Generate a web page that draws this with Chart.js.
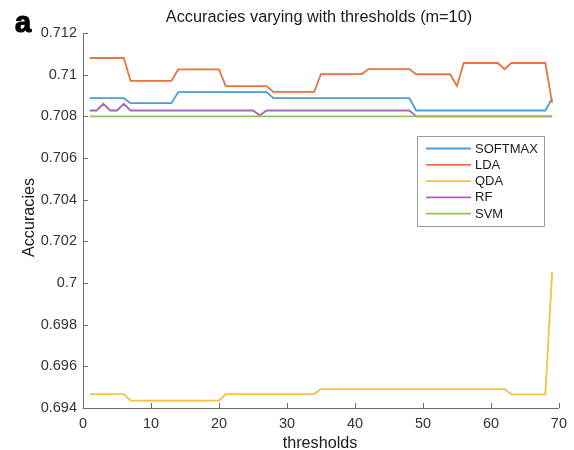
<!DOCTYPE html>
<html>
<head>
<meta charset="utf-8">
<script src="https://cdn.jsdelivr.net/npm/chart.js@4.4.0/dist/chart.umd.min.js"></script>
<style>
  html, body { margin: 0; padding: 0; background: #fff; }
  #wrap { width: 574px; height: 450px; position: relative; }
</style>
</head>
<body>
<div id="wrap"><canvas id="c" width="574" height="450"></canvas></div>
<script>
const thresholds = [1,2,3,4,5,6,7,8,9,10,11,12,13,14,15,16,17,18,19,20,21,22,23,24,25,26,27,28,29,30,31,32,33,34,35,36,37,38,39,40,41,42,43,44,45,46,47,48,49,50,51,52,53,54,55,56,57,58,59,60,61,62,63,64,65,66,67,68,69];

const seriesNames = ['SOFTMAX', 'LDA', 'QDA', 'RF', 'SVM'];

const softmax = [
  0.70887,0.70887,0.70887,0.70887,0.70887,0.70887,
  0.70863,0.70863,0.70863,0.70863,0.70863,0.70863,0.70863,
  0.70916,0.70916,0.70916,0.70916,0.70916,0.70916,0.70916,0.70916,0.70916,0.70916,0.70916,0.70916,0.70916,0.70916,
  0.70887,0.70887,0.70887,0.70887,0.70887,0.70887,0.70887,0.70887,0.70887,0.70887,0.70887,0.70887,0.70887,0.70887,0.70887,0.70887,0.70887,0.70887,0.70887,0.70887,0.70887,
  0.70828,0.70828,0.70828,0.70828,0.70828,0.70828,0.70828,0.70828,0.70828,0.70828,0.70828,0.70828,0.70828,0.70828,0.70828,0.70828,0.70828,0.70828,0.70828,0.70828,
  0.70886
];

const lda = [
  0.71080,0.71080,0.71080,0.71080,0.71080,0.71080,
  0.70970,0.70970,0.70970,0.70970,0.70970,0.70970,0.70970,
  0.71025,0.71025,0.71025,0.71025,0.71025,0.71025,0.71025,
  0.70945,0.70945,0.70945,0.70945,0.70945,0.70945,0.70945,
  0.70917,0.70917,0.70917,0.70917,0.70917,0.70917,0.70917,
  0.71003,0.71003,0.71003,0.71003,0.71003,0.71003,0.71003,
  0.71027,0.71027,0.71027,0.71027,0.71027,0.71027,0.71027,
  0.71002,0.71002,0.71002,0.71002,0.71002,0.71002,
  0.70946,
  0.71056,0.71056,0.71056,0.71056,0.71056,0.71056,
  0.71026,
  0.71056,0.71056,0.71056,0.71056,0.71056,0.71056,
  0.70865
];

const qda = [
  0.69467,0.69467,0.69467,0.69467,0.69467,0.69467,
  0.69435,0.69435,0.69435,0.69435,0.69435,0.69435,0.69435,0.69435,0.69435,0.69435,0.69435,0.69435,0.69435,0.69435,
  0.69467,0.69467,0.69467,0.69467,0.69467,0.69467,0.69467,0.69467,0.69467,0.69467,0.69467,0.69467,0.69467,0.69467,
  0.69491,0.69491,0.69491,0.69491,0.69491,0.69491,0.69491,0.69491,0.69491,0.69491,0.69491,0.69491,0.69491,0.69491,
  0.69491,0.69491,0.69491,0.69491,0.69491,0.69491,0.69491,0.69491,0.69491,0.69491,0.69491,0.69491,0.69491,0.69491,
  0.69465,0.69465,0.69465,0.69465,0.69465,0.69465,
  0.70052
];

const rf = [
  0.70828,0.70828,0.70860,0.70828,0.70828,0.70860,
  0.70828,0.70828,0.70828,0.70828,0.70828,0.70828,0.70828,0.70828,0.70828,0.70828,0.70828,0.70828,0.70828,0.70828,
  0.70828,0.70828,0.70828,0.70828,0.70828,
  0.70805,
  0.70828,0.70828,0.70828,0.70828,0.70828,0.70828,0.70828,0.70828,0.70828,0.70828,0.70828,0.70828,0.70828,0.70828,
  0.70828,0.70828,0.70828,0.70828,0.70828,0.70828,0.70828,0.70828,
  0.70800,0.70800,0.70800,0.70800,0.70800,0.70800,0.70800,0.70800,0.70800,0.70800,0.70800,0.70800,0.70800,0.70800,
  0.70800,0.70800,0.70800,0.70800,0.70800,0.70800,0.70800
];

const svm = [
  0.708,0.708,0.708,0.708,0.708,0.708,0.708,0.708,0.708,0.708,0.708,0.708,0.708,0.708,0.708,0.708,0.708,0.708,0.708,0.708,
  0.708,0.708,0.708,0.708,0.708,0.708,0.708,0.708,0.708,0.708,0.708,0.708,0.708,0.708,0.708,0.708,0.708,0.708,0.708,0.708,
  0.708,0.708,0.708,0.708,0.708,0.708,0.708,0.708,0.708,0.708,0.708,0.708,0.708,0.708,0.708,0.708,0.708,0.708,0.708,0.708,
  0.708,0.708,0.708,0.708,0.708,0.708,0.708,0.708,0.708
];

const xTickValues = [0, 10, 20, 30, 40, 50, 60, 70];
const yTickValues = [0.694, 0.696, 0.698, 0.7, 0.702, 0.704, 0.706, 0.708, 0.71, 0.712];
const yTickLabels = ['0.694', '0.696', '0.698', '0.7', '0.702', '0.704', '0.706', '0.708', '0.71', '0.712'];

const colors = ['#4a9edd', '#ea7441', '#f1c246', '#a864bb', '#8fc657'];
const allSeries = [softmax, lda, qda, rf, svm];

const FONT = '"Liberation Sans", Arial, Helvetica, sans-serif';
const AXIS_COLOR = '#6e6e6e';
const TEXT_COLOR = '#333333';

const datasets = allSeries.map((vals, i) => ({
  label: seriesNames[i],
  data: thresholds.map((t, k) => ({ x: t, y: vals[k] })),
  borderColor: colors[i],
  backgroundColor: colors[i],
  borderWidth: 1.8,
  pointRadius: 0,
  tension: 0,
  fill: false,
  order: 5 - i
}));

const decor = {
  id: 'decor',
  afterDraw(chart) {
    const ctx = chart.ctx;
    const xs = chart.scales.x, ys = chart.scales.y;
    const area = chart.chartArea;
    ctx.save();
    // inward tick marks
    ctx.strokeStyle = AXIS_COLOR;
    ctx.lineWidth = 1;
    ctx.beginPath();
    yTickValues.forEach(v => {
      const py = Math.round(ys.getPixelForValue(v)) + 0.5;
      ctx.moveTo(area.left, py);
      ctx.lineTo(area.left + 5, py);
    });
    xTickValues.forEach(v => {
      const px = Math.round(xs.getPixelForValue(v)) + 0.5;
      ctx.moveTo(px, area.bottom);
      ctx.lineTo(px, area.bottom - 5);
    });
    ctx.stroke();

    // title
    ctx.fillStyle = '#1a1a1a';
    ctx.font = '16.3px ' + FONT;
    ctx.textAlign = 'center';
    ctx.textBaseline = 'alphabetic';
    ctx.fillText('Accuracies varying with thresholds (m=10)', 319, 22);

    // panel letter (heavy)
    ctx.fillStyle = '#000';
    ctx.strokeStyle = '#000';
    ctx.lineWidth = 1.2;
    ctx.lineJoin = 'round';
    ctx.font = 'bold 29px ' + FONT;
    ctx.textAlign = 'left';
    ctx.textBaseline = 'alphabetic';
    ctx.fillText('a', 15, 32);
    ctx.strokeText('a', 15, 32);

    // axis titles
    ctx.fillStyle = '#1a1a1a';
    ctx.font = '16.2px ' + FONT;
    ctx.textAlign = 'center';
    ctx.textBaseline = 'alphabetic';
    ctx.fillText('thresholds', 320, 448);
    ctx.save();
    ctx.translate(34, 217.5);
    ctx.rotate(-Math.PI / 2);
    ctx.fillText('Accuracies', 0, 0);
    ctx.restore();

    // legend box
    const bx = 417.5, by = 136.5, bw = 127, bh = 90;
    ctx.fillStyle = '#fff';
    ctx.fillRect(bx, by, bw, bh);
    ctx.strokeStyle = '#9a9a9a';
    ctx.lineWidth = 1;
    ctx.strokeRect(bx, by, bw, bh);
    ctx.font = '13px ' + FONT;
    ctx.textAlign = 'left';
    ctx.textBaseline = 'middle';
    chart.data.datasets.forEach((ds, i) => {
      const ry = 148.5 + i * 16.3;
      ctx.strokeStyle = ds.borderColor;
      ctx.lineWidth = 1.8;
      ctx.beginPath();
      ctx.moveTo(426, ry);
      ctx.lineTo(471, ry);
      ctx.stroke();
      ctx.fillStyle = '#1a1a1a';
      ctx.fillText(ds.label, 475, ry + 0.5);
    });
    ctx.restore();
  }
};

new Chart(document.getElementById('c'), {
  type: 'line',
  data: { datasets },
  plugins: [decor],
  options: {
    responsive: false,
    animation: false,
    devicePixelRatio: 1,
    layout: { padding: { top: 33, right: 15, left: 0, bottom: 0 } },
    plugins: {
      legend: { display: false },
      title: { display: false },
      tooltip: { enabled: false }
    },
    scales: {
      x: {
        type: 'linear',
        min: 0,
        max: 70,
        afterBuildTicks: s => { s.ticks = xTickValues.map(v => ({ value: v })); },
        afterFit: s => { s.height = 42; },
        grid: { display: false, drawTicks: false },
        border: { display: true, color: AXIS_COLOR, width: 1 },
        ticks: { color: TEXT_COLOR, font: { family: FONT, size: 14.5 }, padding: 7, maxRotation: 0, autoSkip: false }
      },
      y: {
        type: 'linear',
        min: 0.694,
        max: 0.712,
        afterBuildTicks: s => { s.ticks = yTickValues.map(v => ({ value: v })); },
        afterFit: s => { s.width = 83; },
        grid: { display: false, drawTicks: false },
        border: { display: true, color: AXIS_COLOR, width: 1 },
        ticks: {
          color: TEXT_COLOR,
          font: { family: FONT, size: 14.5 },
          padding: 6,
          autoSkip: false,
          callback: (v) => {
            const idx = yTickValues.findIndex(t => Math.abs(t - v) < 1e-9);
            return idx >= 0 ? yTickLabels[idx] : '';
          }
        }
      }
    }
  }
});
</script>
</body>
</html>
